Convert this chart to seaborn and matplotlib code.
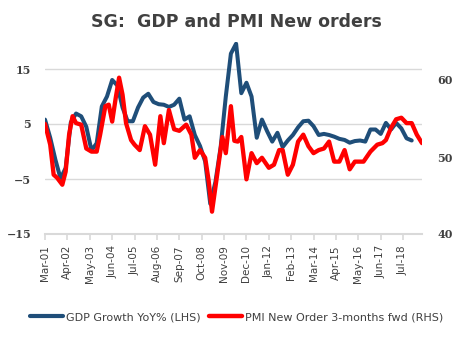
import matplotlib
matplotlib.use("Agg")
import matplotlib.pyplot as plt
import pandas as pd
import seaborn as sns
from matplotlib.lines import Line2D

sns.set_theme(style="white")
plt.rcParams["font.family"] = ["DejaVu Sans"]

# Singapore real GDP growth, % YoY, quarterly from Mar-01 to Dec-18 (left axis)
gdp_values = [
    5.8, 2.5, -1.5, -4.9, -3.0, 5.3, 6.9, 6.4, 4.5, 0.2, 1.5, 8.2,
    10.0, 13.0, 12.0, 8.0, 5.5, 5.5, 8.0, 9.8, 10.5, 9.0, 8.6, 8.5,
    8.1, 8.5, 9.6, 5.8, 6.4, 3.0, 1.0, -1.8, -9.5, -5.5, 0.8, 10.0,
    17.8, 19.6, 10.6, 12.5, 10.0, 2.5, 5.8, 3.7, 1.8, 3.4, 0.8, 2.0,
    3.0, 4.4, 5.5, 5.6, 4.6, 3.0, 3.2, 3.0, 2.7, 2.3, 2.1, 1.6,
    1.9, 2.0, 1.8, 4.0, 4.0, 3.2, 5.2, 4.0, 5.2, 4.2, 2.4, 2.0,
]
gdp_start, gdp_end = "2001-03-01", "2018-12-01"

# PMI new orders, shifted 3 months forward (right axis)
pmi_months = [
    "2001-03", "2001-06", "2001-08", "2001-10", "2002-01", "2002-03", "2002-05",
    "2002-07", "2002-09", "2002-12", "2003-03", "2003-06", "2003-09", "2003-11",
    "2004-02", "2004-04", "2004-06", "2004-08", "2004-10", "2004-12", "2005-02",
    "2005-05", "2005-07", "2005-10", "2006-01", "2006-04", "2006-07", "2006-10",
    "2006-12", "2007-03", "2007-06", "2007-09", "2008-01", "2008-04", "2008-06",
    "2008-09", "2008-12", "2009-02", "2009-04", "2009-07", "2009-10", "2009-12",
    "2010-03", "2010-05", "2010-07", "2010-09", "2010-12", "2011-03", "2011-06",
    "2011-09", "2012-01", "2012-04", "2012-07", "2012-09", "2012-12", "2013-03",
    "2013-06", "2013-09", "2013-12", "2014-03", "2014-06", "2014-09", "2014-12",
    "2015-03", "2015-06", "2015-09", "2015-12", "2016-03", "2016-08", "2016-12",
    "2017-04", "2017-07", "2017-09", "2017-12", "2018-03", "2018-06", "2018-09",
    "2018-12", "2019-03", "2019-06",
]
pmi_values = [
    54.3, 51.6, 47.7, 47.3, 46.4, 48.1, 52.9,
    55.3, 54.4, 54.2, 51.1, 50.7, 50.7, 52.9,
    56.6, 56.8, 54.6, 57.6, 60.3, 58.1, 54.4,
    52.2, 51.6, 50.9, 54.0, 52.9, 49.0, 55.3,
    51.8, 56.1, 53.6, 53.4, 54.2, 52.9, 49.9,
    50.9, 49.9, 46.9, 42.9, 47.7, 52.6, 50.5,
    56.6, 52.1, 52.0, 52.6, 47.1, 50.5, 49.2,
    49.9, 48.6, 49.0, 50.9, 50.9, 47.7, 49.0,
    52.0, 52.9, 51.4, 50.5, 50.9, 51.1, 52.0,
    49.4, 49.4, 50.9, 48.4, 49.4, 49.4, 50.7,
    51.6, 51.8, 52.2, 53.8, 54.9, 55.1, 54.4,
    54.4, 52.9, 51.8,
]

tick_labels = [
    "Mar-01", "Apr-02", "May-03", "Jun-04", "Jul-05", "Aug-06", "Sep-07",
    "Oct-08", "Nov-09", "Dec-10", "Jan-12", "Feb-13", "Mar-14", "Apr-15",
    "May-16", "Jun-17", "Jul-18",
]

gdp = pd.DataFrame({
    "date": pd.date_range(gdp_start, gdp_end, freq="3MS"),
    "value": gdp_values,
})
pmi = pd.DataFrame({
    "date": pd.to_datetime(pmi_months, format="%Y-%m"),
    "value": pmi_values,
})
tick_dates = pd.to_datetime(tick_labels, format="%b-%y")

BLUE = "#1F4E79"
RED = "#FF0000"
GRID = "#D9D9D9"
TEXT = "#404040"

W, H = 473, 339
fig = plt.figure(figsize=(W / 100, H / 100), dpi=100)
ax = fig.add_axes([45 / W, 1 - 234 / H, (422 - 45) / W, (234 - 41.5) / H])
ax2 = ax.twinx()

sns.lineplot(data=gdp, x="date", y="value", ax=ax, color=BLUE, linewidth=2.9,
             solid_joinstyle="round", solid_capstyle="round")
sns.lineplot(data=pmi, x="date", y="value", ax=ax2, color=RED, linewidth=3.1,
             solid_joinstyle="round", solid_capstyle="round")

ax.set_xlim(pd.Timestamp("2001-03-01"), pd.Timestamp("2019-06-01"))
ax.set_ylim(-15, 20)
ax.set_yticks([-15, -5, 5, 15])
ax2.set_ylim(40, 65)
ax2.set_yticks([40, 50, 60])

ax.grid(axis="y", color=GRID, linewidth=1)
ax.grid(axis="x", visible=False)
ax2.grid(False)

for a in (ax, ax2):
    for side in ("top", "left", "right"):
        a.spines[side].set_visible(False)
    a.set_xlabel("")
    a.set_ylabel("")
ax2.spines["bottom"].set_visible(False)
ax.spines["bottom"].set_color(GRID)
ax.spines["bottom"].set_linewidth(1.5)

ax.set_xticks(tick_dates)
ax.set_xticklabels(tick_labels, rotation=90, fontsize=7.5, color=TEXT)
ax.tick_params(axis="x", length=4, width=1.2, color=GRID, pad=4, bottom=True)

ax.tick_params(axis="y", length=0, pad=10, labelcolor=TEXT)
ax2.tick_params(axis="y", length=0, pad=11, labelcolor=TEXT)
for lbl in ax.get_yticklabels() + ax2.get_yticklabels():
    lbl.set_fontfamily("DejaVu Serif")
    lbl.set_fontweight("bold")
    lbl.set_fontsize(8)

fig.text(0.5, 1 - 22 / H, "SG:  GDP and PMI New orders", ha="center", va="center",
         fontsize=12.5, fontweight="bold", color=TEXT)

handles = [
    Line2D([], [], color=BLUE, linewidth=3.0, solid_capstyle="round"),
    Line2D([], [], color=RED, linewidth=3.2, solid_capstyle="round"),
]
fig.legend(handles, ["GDP Growth YoY% (LHS)", "PMI New Order 3-months fwd (RHS)"],
           loc="center", bbox_to_anchor=(0.5, 22 / H), ncol=2, frameon=False,
           fontsize=8, handlelength=3, handletextpad=0.2, columnspacing=0.8,
           labelcolor=TEXT)

fig.savefig("out.png", dpi=100)
